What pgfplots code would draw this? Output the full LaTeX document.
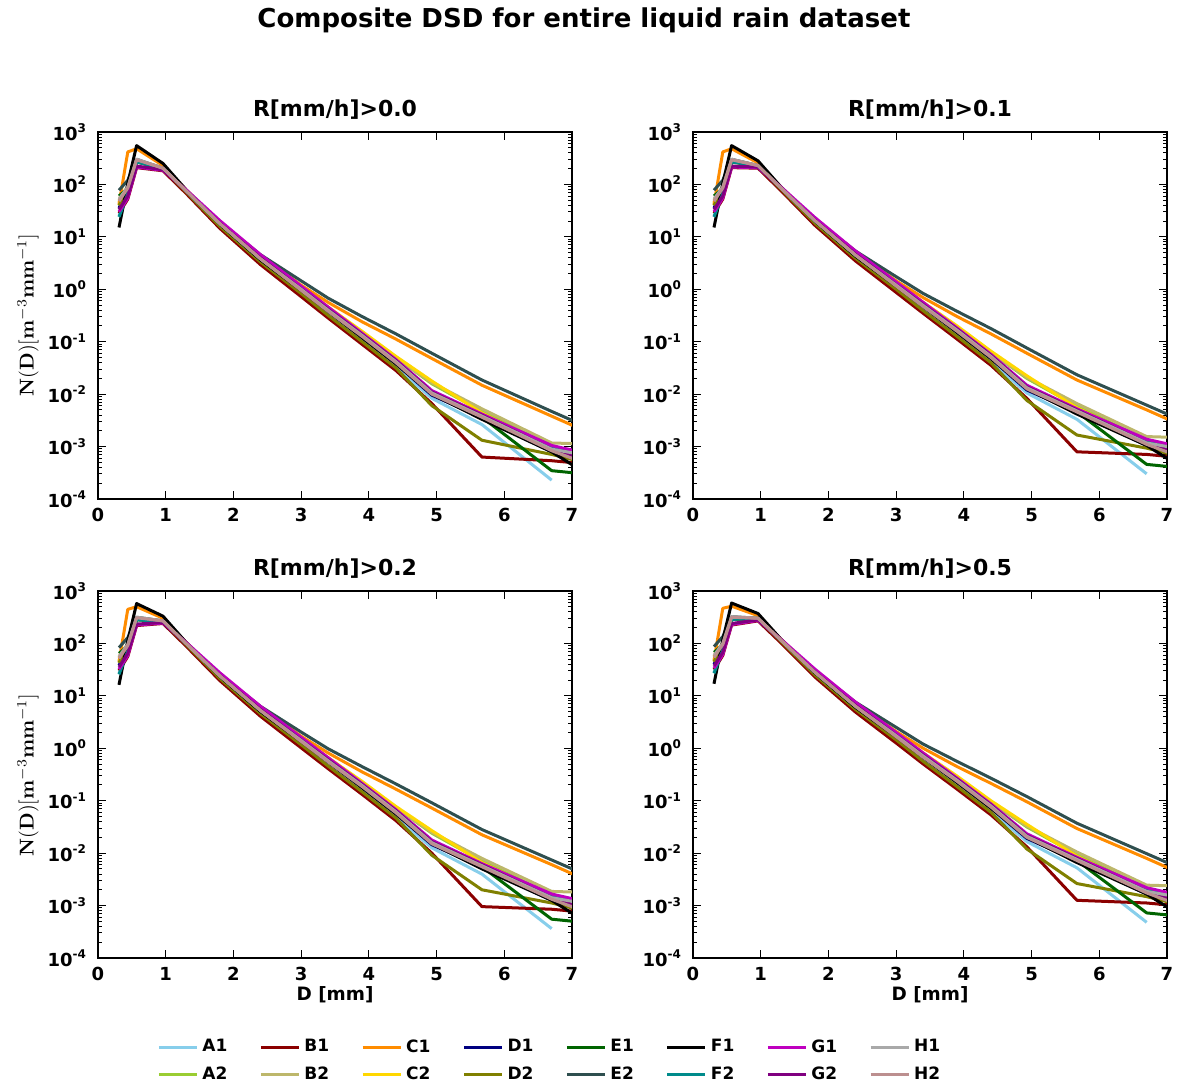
\documentclass[border=0pt]{standalone}
\usepackage[no-math]{fontspec}
\setmainfont{DejaVu Sans}
\usepackage{pgfplots}
\usepackage{pgfplotstable}
\pgfplotsset{compat=1.18}

\definecolor{cA1}{RGB}{135,206,235}
\definecolor{cA2}{RGB}{154,205,50}
\definecolor{cB1}{RGB}{139,0,0}
\definecolor{cB2}{RGB}{189,183,107}
\definecolor{cC1}{RGB}{255,140,0}
\definecolor{cC2}{RGB}{255,215,0}
\definecolor{cD1}{RGB}{0,0,128}
\definecolor{cD2}{RGB}{128,128,0}
\definecolor{cE1}{RGB}{0,100,0}
\definecolor{cE2}{RGB}{47,79,79}
\definecolor{cF1}{RGB}{0,0,0}
\definecolor{cF2}{RGB}{0,139,139}
\definecolor{cG1}{RGB}{191,0,191}
\definecolor{cG2}{RGB}{128,0,128}
\definecolor{cH1}{RGB}{169,169,169}
\definecolor{cH2}{RGB}{188,143,143}

\pgfplotstableread{
D A1 A2 B1 B2 C1 C2 D1 D2 E1 E2 F1 F2 G1 G2 H1 H2
0.31 25.1 44.7 28.2 50.1 41.7 39.8 35.5 39.8 60.3 77.6 15.1 24.0 30.2 33.1 52.5 47.9
0.44 70.8 89.1 52.5 93.3 417 85.1 79.4 83.2 83.2 120 105 66.1 55.0 60.3 89.1 85.1
0.57 275 288 209 295 479 282 275 269 275 302 550 269 214 224 302 295
0.96 200 204 182 204 229 200 200 195 200 204 251 200 186 191 204 204
1.3 75.9 77.6 67.6 75.9 79.4 77.6 75.9 72.4 75.9 77.6 79.4 75.9 79.4 75.9 75.9 75.9
1.8 17.4 18.6 14.5 17.8 18.6 18.6 17.8 15.8 17.8 19.1 17.4 17.8 20.4 18.2 17.8 17.8
2.4 3.63 4.07 2.95 3.98 4.37 4.17 3.80 3.31 3.80 4.57 3.63 3.80 4.57 3.98 3.80 3.80
3.0 0.912 1.10 0.724 1.07 1.20 1.12 0.977 0.832 1.00 1.45 0.955 1.00 1.15 1.02 1.00 0.955
3.4 0.355 0.447 0.282 0.437 0.562 0.457 0.380 0.316 0.398 0.676 0.380 0.398 0.457 0.417 0.398 0.380
3.9 0.112 0.151 0.0891 0.151 0.240 0.158 0.120 0.100 0.126 0.302 0.120 0.132 0.145 0.138 0.132 0.126
4.4 0.0331 0.0501 0.0282 0.0501 0.112 0.0525 0.0380 0.0316 0.0398 0.141 0.0380 0.0417 0.0457 0.0437 0.0417 0.0398
4.93 0.00832 0.0158 0.00661 0.0166 0.0479 0.0178 0.00955 0.00603 0.0105 0.0603 0.0100 0.0110 0.0117 0.0110 0.0105 0.0100
5.67 0.00263 0.00468 0.000631 0.00525 0.0148 0.00437 0.00355 0.00132 0.00363 0.0186 0.00331 0.00398 0.00417 0.00398 0.00380 0.00363
6.7 0.000229 0.00100 0.000537 0.00117 0.00380 0.000955 0.000794 0.000708 0.000347 0.00468 0.000794 0.00100 0.00105 0.000891 0.000891 0.000832
7.8 nan 0.000282 0.000398 0.00107 0.000891 0.000251 0.000282 0.000316 0.000251 0.00112 0.000100 0.000398 0.000501 0.000316 0.000501 0.000251
}\tabTL

\pgfplotstableread{
D A1 A2 B1 B2 C1 C2 D1 D2 E1 E2 F1 F2 G1 G2 H1 H2
0.31 25.1 44.7 28.2 50.1 41.7 39.8 35.5 39.8 60.3 77.6 15.1 24.0 30.2 33.1 52.5 47.9
0.44 70.8 89.1 52.5 93.3 417 85.1 79.4 83.2 83.2 120 105 66.1 55.0 60.3 89.1 85.1
0.57 275 288 209 295 479 282 275 269 275 302 550 269 214 224 302 295
0.96 224 229 204 229 257 224 224 219 224 229 282 224 209 214 229 229
1.3 85.1 87.1 75.9 85.1 89.1 87.1 85.1 81.3 85.1 87.1 89.1 85.1 89.1 85.1 85.1 85.1
1.8 20.0 21.4 16.6 20.4 21.4 21.4 20.4 18.2 20.4 21.9 20.0 20.4 23.4 20.9 20.4 20.4
2.4 4.27 4.79 3.47 4.68 5.13 4.90 4.47 3.89 4.47 5.37 4.27 4.47 5.37 4.68 4.47 4.47
3.0 1.10 1.32 0.871 1.29 1.45 1.35 1.17 1.00 1.20 1.74 1.15 1.20 1.38 1.23 1.20 1.15
3.4 0.437 0.550 0.347 0.537 0.692 0.562 0.468 0.389 0.490 0.832 0.468 0.490 0.562 0.513 0.490 0.468
3.9 0.141 0.191 0.112 0.191 0.302 0.200 0.151 0.126 0.158 0.380 0.151 0.166 0.182 0.174 0.166 0.158
4.4 0.0417 0.0631 0.0355 0.0631 0.141 0.0661 0.0479 0.0398 0.0501 0.178 0.0479 0.0525 0.0575 0.0550 0.0525 0.0501
4.93 0.0105 0.0200 0.00832 0.0209 0.0603 0.0224 0.0120 0.00759 0.0132 0.0759 0.0126 0.0138 0.0148 0.0138 0.0132 0.0126
5.67 0.00331 0.00589 0.000794 0.00661 0.0186 0.00550 0.00447 0.00166 0.00457 0.0234 0.00417 0.00501 0.00525 0.00501 0.00479 0.00457
6.7 0.000302 0.00132 0.000708 0.00155 0.00501 0.00126 0.00105 0.000933 0.000457 0.00617 0.00105 0.00132 0.00138 0.00117 0.00117 0.00110
7.8 nan 0.000372 0.000525 0.00141 0.00117 0.000331 0.000372 0.000417 0.000331 0.00148 0.000132 0.000525 0.000661 0.000417 0.000661 0.000331
}\tabTR

\pgfplotstableread{
D A1 A2 B1 B2 C1 C2 D1 D2 E1 E2 F1 F2 G1 G2 H1 H2
0.31 26.9 47.9 30.2 53.7 44.7 42.7 38.0 42.7 64.6 83.2 16.2 25.7 32.4 35.5 56.2 51.3
0.44 75.9 95.5 56.2 100 447 91.2 85.1 89.1 89.1 129 112 70.8 58.9 64.6 95.5 91.2
0.57 288 302 219 309 501 295 288 282 288 316 575 282 224 234 316 309
0.96 263 269 240 269 302 263 263 257 263 269 331 263 245 251 269 269
1.3 100 102 89.1 100 105 102 100 95.5 100 102 105 100 105 100 100 100
1.8 23.4 25.1 19.5 24.0 25.1 25.1 24.0 21.4 24.0 25.7 23.4 24.0 27.5 24.5 24.0 24.0
2.4 5.01 5.62 4.07 5.50 6.03 5.75 5.25 4.57 5.25 6.31 5.01 5.25 6.31 5.50 5.25 5.25
3.0 1.29 1.55 1.02 1.51 1.70 1.58 1.38 1.17 1.41 2.04 1.35 1.41 1.62 1.45 1.41 1.35
3.4 0.513 0.646 0.407 0.631 0.813 0.661 0.550 0.457 0.575 0.977 0.550 0.575 0.661 0.603 0.575 0.550
3.9 0.166 0.224 0.132 0.224 0.355 0.234 0.178 0.148 0.186 0.447 0.178 0.195 0.214 0.204 0.195 0.186
4.4 0.0490 0.0741 0.0417 0.0741 0.166 0.0776 0.0562 0.0468 0.0589 0.209 0.0562 0.0617 0.0676 0.0646 0.0617 0.0589
4.93 0.0126 0.0240 0.0100 0.0251 0.0724 0.0269 0.0145 0.00912 0.0158 0.0912 0.0151 0.0166 0.0178 0.0166 0.0158 0.0151
5.67 0.00398 0.00708 0.000955 0.00794 0.0224 0.00661 0.00537 0.00200 0.00550 0.0282 0.00501 0.00603 0.00631 0.00603 0.00575 0.00550
6.7 0.000363 0.00158 0.000851 0.00186 0.00603 0.00151 0.00126 0.00112 0.000550 0.00741 0.00126 0.00158 0.00166 0.00141 0.00141 0.00132
7.8 nan 0.000447 0.000631 0.00170 0.00141 0.000398 0.000447 0.000501 0.000398 0.00178 0.000158 0.000631 0.000794 0.000501 0.000794 0.000398
}\tabBL

\pgfplotstableread{
D A1 A2 B1 B2 C1 C2 D1 D2 E1 E2 F1 F2 G1 G2 H1 H2
0.31 28.2 50.1 31.6 56.2 46.8 44.7 39.8 44.7 67.6 87.1 17.0 26.9 33.9 37.2 58.9 53.7
0.44 79.4 100 58.9 105 468 95.5 89.1 93.3 93.3 135 117 74.1 61.7 67.6 100 95.5
0.57 295 309 224 316 513 302 295 288 295 324 589 288 229 240 324 316
0.96 295 302 269 302 339 295 295 288 295 302 372 295 275 282 302 302
1.3 115 117 102 115 120 117 115 110 115 117 120 115 120 115 115 115
1.8 27.5 29.5 22.9 28.2 29.5 29.5 28.2 25.1 28.2 30.2 27.5 28.2 32.4 28.8 28.2 28.2
2.4 6.03 6.76 4.90 6.61 7.24 6.92 6.31 5.50 6.31 7.59 6.03 6.31 7.59 6.61 6.31 6.31
3.0 1.58 1.91 1.26 1.86 2.09 1.95 1.70 1.45 1.74 2.51 1.66 1.74 2.00 1.78 1.74 1.66
3.4 0.631 0.794 0.501 0.776 1.00 0.813 0.676 0.562 0.708 1.20 0.676 0.708 0.813 0.741 0.708 0.676
3.9 0.209 0.282 0.166 0.282 0.447 0.295 0.224 0.186 0.234 0.562 0.224 0.245 0.269 0.257 0.245 0.234
4.4 0.0631 0.0955 0.0537 0.0955 0.214 0.100 0.0724 0.0603 0.0759 0.269 0.0724 0.0794 0.0871 0.0832 0.0794 0.0759
4.93 0.0166 0.0316 0.0132 0.0331 0.0955 0.0355 0.0191 0.0120 0.0209 0.120 0.0200 0.0219 0.0234 0.0219 0.0209 0.0200
5.67 0.00525 0.00933 0.00126 0.0105 0.0295 0.00871 0.00708 0.00263 0.00724 0.0372 0.00661 0.00794 0.00832 0.00794 0.00759 0.00724
6.7 0.000479 0.00209 0.00112 0.00245 0.00794 0.00200 0.00166 0.00148 0.000724 0.00977 0.00166 0.00209 0.00219 0.00186 0.00186 0.00174
7.8 nan 0.000589 0.000832 0.00224 0.00186 0.000525 0.000589 0.000661 0.000525 0.00234 0.000209 0.000832 0.00105 0.000661 0.00105 0.000525
}\tabBR

\newcommand\tk[1]{10\textsuperscript{#1}}

\newcommand\drawpanel[2]{%
  \begin{semilogyaxis}[anchor=south west, at={#1}, scale only axis, width=237pt, height=183.5pt,
    xmin=0, xmax=7, ymin=1e-4, ymax=1e3,
    xtick={0,1,2,3,4,5,6,7}, xticklabels={0,1,2,3,4,5,6,7},
    ytick={1e-4,1e-3,1e-2,1e-1,1,10,100,1000},
    yticklabels={\tk{-4},\tk{-3},\tk{-2},\tk{-1},\tk{0},\tk{1},\tk{2},\tk{3}},
    minor ytick={2e-4,3e-4,4e-4,5e-4,6e-4,7e-4,8e-4,9e-4,
      2e-3,3e-3,4e-3,5e-3,6e-3,7e-3,8e-3,9e-3,
      0.02,0.03,0.04,0.05,0.06,0.07,0.08,0.09,
      0.2,0.3,0.4,0.5,0.6,0.7,0.8,0.9,
      2,3,4,5,6,7,8,9,20,30,40,50,60,70,80,90,
      200,300,400,500,600,700,800,900},
    tick align=inside,
    major tick length=4pt, minor tick length=2pt,
    every tick/.append style={black, line width=0.5pt},
    axis line style={line width=1pt},
    tick label style={font=\fontsize{9}{10}\selectfont\bfseries},
    xticklabel style={yshift=-1pt},
    yticklabel style={xshift=-2pt},
    every axis plot/.append style={line width=1.5pt, line join=round}]
    \pgfplotsinvokeforeach{A1,A2,B1,B2,C1,C2,D1,D2,E1,E2,F1,F2,G1,G2,H1,H2}{%
      \addplot[color=c##1] table[x=D, y=##1] {#2};
    }
  \end{semilogyaxis}%
}

\begin{document}
\begin{tikzpicture}
\path[use as bounding box] (0pt,0pt) rectangle (589.5pt,541pt);

\drawpanel{(49pt,291.5pt)}{\tabTL}
\drawpanel{(346.5pt,291.5pt)}{\tabTR}
\drawpanel{(49pt,62pt)}{\tabBL}
\drawpanel{(346.5pt,62pt)}{\tabBR}

\node[font=\fontsize{13}{15}\selectfont\bfseries] at (292pt,531pt) {Composite DSD for entire liquid rain dataset};
\node[font=\fontsize{11}{13}\selectfont\bfseries] at (167.5pt,486pt) {R[mm/h]>0.0};
\node[font=\fontsize{11}{13}\selectfont\bfseries] at (465pt,486pt) {R[mm/h]>0.1};
\node[font=\fontsize{11}{13}\selectfont\bfseries] at (167.5pt,256.5pt) {R[mm/h]>0.2};
\node[font=\fontsize{11}{13}\selectfont\bfseries] at (465pt,256.5pt) {R[mm/h]>0.5};
\node[font=\fontsize{9.2}{11}\selectfont\bfseries] at (167.5pt,43.5pt) {D [mm]};
\node[font=\fontsize{9.2}{11}\selectfont\bfseries] at (465pt,43.5pt) {D [mm]};
\node[rotate=90, font=\fontsize{10}{12}\selectfont] at (14pt,383.5pt) {$\mathbf{N(D)}[\mathbf{m}^{-3}\mathbf{mm}^{-1}]$};
\node[rotate=90, font=\fontsize{10}{12}\selectfont] at (14pt,153.5pt) {$\mathbf{N(D)}[\mathbf{m}^{-3}\mathbf{mm}^{-1}]$};

\begin{axis}[at={(0pt,0pt)}, anchor=south west, scale only axis,
  width=589.5pt, height=541pt, hide axis,
  xmin=0, xmax=1, ymin=0, ymax=1,
  legend columns=8,
  legend cell align=left,
  legend style={at={(0.1332,0.0434)}, anchor=north west, draw=none, fill=none,
    inner sep=0pt, row sep=2pt,
    font=\fontsize{8.5}{10}\selectfont\bfseries,
    /tikz/every even column/.append style={column sep=14pt}},
  legend image code/.code={\draw[#1, line width=1.5pt] (0pt,0pt) -- (19pt,0pt);},
]
\addlegendimage{color=cA1}\addlegendentry{A1}
\addlegendimage{color=cB1}\addlegendentry{B1}
\addlegendimage{color=cC1}\addlegendentry{C1}
\addlegendimage{color=cD1}\addlegendentry{D1}
\addlegendimage{color=cE1}\addlegendentry{E1}
\addlegendimage{color=cF1}\addlegendentry{F1}
\addlegendimage{color=cG1}\addlegendentry{G1}
\addlegendimage{color=cH1}\addlegendentry{H1}
\addlegendimage{color=cA2}\addlegendentry{A2}
\addlegendimage{color=cB2}\addlegendentry{B2}
\addlegendimage{color=cC2}\addlegendentry{C2}
\addlegendimage{color=cD2}\addlegendentry{D2}
\addlegendimage{color=cE2}\addlegendentry{E2}
\addlegendimage{color=cF2}\addlegendentry{F2}
\addlegendimage{color=cG2}\addlegendentry{G2}
\addlegendimage{color=cH2}\addlegendentry{H2}
\end{axis}
\end{tikzpicture}
\end{document}
